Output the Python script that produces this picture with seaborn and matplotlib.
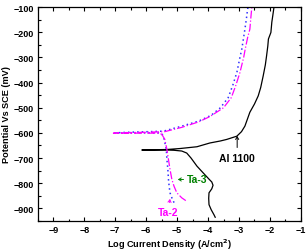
import matplotlib
matplotlib.use("Agg")
import matplotlib.pyplot as plt
import pandas as pd
import seaborn as sns
from matplotlib.ticker import MultipleLocator

# Al 1100 (log i, E in mV)
al_logi = [-3.77, -3.81, -3.90, -3.97, -3.98, -3.97, -3.88, -3.84, -3.88, -3.96,
           -4.15, -4.36, -4.55, -4.69, -4.85, -5.10, -5.33, -5.80, -6.14,
           -5.80, -5.33, -4.90, -4.36, -3.94, -3.60, -3.40, -3.07, -2.92, -2.81,
           -2.65, -2.50, -2.38, -2.30, -2.22, -2.15, -2.11, -2.07, -2.05, -1.97,
           -1.94, -1.91, -1.87]
al_e = [-935, -925, -905, -885, -860, -838, -822, -808, -795, -785,
        -760, -732, -700, -680, -672, -669, -668, -668, -668,
        -667, -666, -662, -655, -640, -632, -626, -613, -595, -573,
        -518, -485, -453, -420, -374, -330, -294, -255, -227, -201,
        -160, -135, -100]

# Ta-2
ta2_logi = [-5.10, -5.17, -5.23, -5.26, -5.28, -5.30, -5.33, -5.35, -5.42, -5.48,
            -5.60, -6.00, -6.50, -7.05,
            -6.50, -5.90, -5.44, -4.90, -4.30, -3.90, -3.60, -3.35, -3.20, -3.07,
            -2.97, -2.91, -2.85, -2.81, -2.76, -2.73, -2.71]
ta2_e = [-877, -858, -838, -810, -785, -745, -706, -666, -625, -606,
         -600, -600, -599, -600,
         -597, -595, -593, -575, -553, -530, -500, -460, -410, -360,
         -300, -267, -220, -188, -145, -115, -100]

# Ta-3
ta3_logi = [-4.72, -4.85, -5.01, -5.10, -5.17, -5.23, -5.28, -5.33, -5.40, -5.50,
            -5.65, -6.20, -7.06,
            -6.50, -5.90, -5.40, -4.85, -4.30, -3.94, -3.50, -3.25, -3.10, -2.97,
            -2.85, -2.80, -2.72, -2.65, -2.62, -2.59, -2.58]
ta3_e = [-869, -858, -838, -812, -785, -745, -706, -666, -625, -605,
         -601, -601, -601,
         -599, -597, -595, -578, -556, -535, -500, -460, -410, -360,
         -300, -267, -220, -188, -145, -105, -100]

plt.rcParams['font.family'] = ['Liberation Sans', 'DejaVu Sans']
plt.rcParams['font.weight'] = 'bold'

fig = plt.figure(figsize=(3.08, 2.51), dpi=100)
ax = fig.add_axes([0.123, 0.1155, 0.854, 0.8525])

sns.lineplot(x=al_logi, y=al_e, sort=False, estimator=None, color='black', lw=0.9, ax=ax)
sns.lineplot(x=ta2_logi, y=ta2_e, sort=False, estimator=None, color='#3030ff', lw=1.1,
             linestyle=(0, (1, 2)), ax=ax)
sns.lineplot(x=ta3_logi, y=ta3_e, sort=False, estimator=None, color='#ff00ff', lw=0.9,
             linestyle='-.', ax=ax)

ax.set_xlim(-9.5, -1)
ax.set_ylim(-950, -100)
ax.xaxis.set_major_locator(MultipleLocator(1))
ax.xaxis.set_minor_locator(MultipleLocator(0.5))
ax.yaxis.set_major_locator(MultipleLocator(100))
ax.yaxis.set_minor_locator(MultipleLocator(50))
ax.tick_params(which='both', direction='in', top=True, right=True, labelsize=6.5, width=0.8)
ax.tick_params(which='major', length=3, pad=3)
ax.tick_params(which='minor', length=1.8)
for s in ax.spines.values():
    s.set_linewidth(0.9)

ax.set_xlabel('Log Current Density (A/cm$\\mathbf{^2}$)', fontsize=6.6, fontweight='bold', labelpad=2)
ax.set_ylabel('Potential Vs SCE (mV)', fontsize=6.6, fontweight='bold', labelpad=2)

arrow = '->,head_length=0.25,head_width=0.15'
ax.annotate('Al 1100', xy=(-3.06, -612), xytext=(-3.06, -700), fontsize=7.5, fontweight='bold',
            ha='center', va='center', color='black',
            arrowprops=dict(arrowstyle=arrow, color='black', lw=0.7, shrinkA=2, shrinkB=0))
ax.annotate('Ta-3', xy=(-4.98, -785), xytext=(-4.35, -785), fontsize=7.5, fontweight='bold',
            ha='center', va='center', color='#008000',
            arrowprops=dict(arrowstyle=arrow, color='#008000', lw=0.7, shrinkA=0.5, shrinkB=0))
ax.annotate('Ta-2', xy=(-5.23, -862), xytext=(-5.29, -913), fontsize=7.5, fontweight='bold',
            ha='center', va='center', color='#ff00ff',
            arrowprops=dict(arrowstyle=arrow, color='#ff00ff', lw=0.7, shrinkA=1, shrinkB=0))

fig.savefig('out.png', dpi=100)
